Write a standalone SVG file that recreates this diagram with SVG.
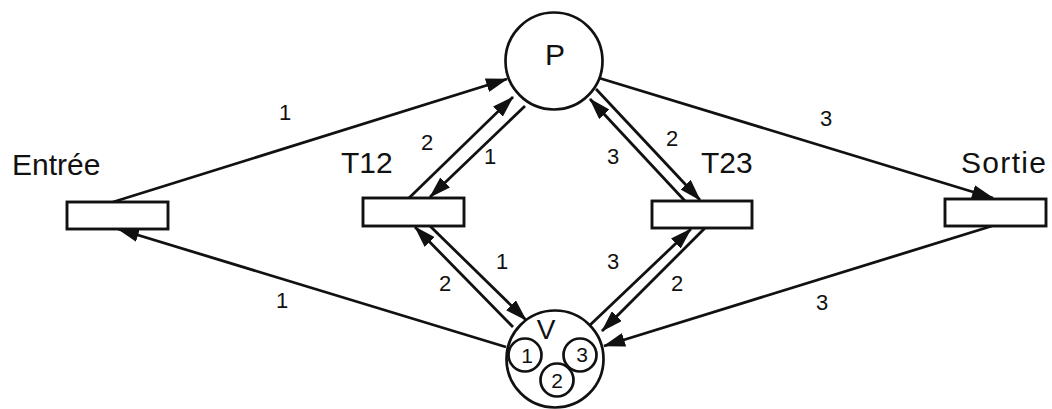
<svg xmlns="http://www.w3.org/2000/svg" width="1052" height="409" viewBox="0 0 1052 409">
<defs>
<style>
.pl{fill:#fff;stroke:#111;stroke-width:2.7}
.tr{fill:#fff;stroke:#111;stroke-width:2.9}
.ar{stroke:#111;stroke-width:2.8;fill:none;marker-end:url(#ah)}
.nm{font-family:"Liberation Sans",Arial,sans-serif;font-size:30px;fill:#111}
.lb{font-family:"Liberation Sans",Arial,sans-serif;font-size:22px;fill:#111;text-anchor:middle}
.tk{font-family:"Liberation Sans",Arial,sans-serif;font-size:21px;fill:#111;text-anchor:middle}
</style>
<marker id="ah" markerUnits="userSpaceOnUse" viewBox="0 0 22 14" markerWidth="22" markerHeight="14" refX="21" refY="7" orient="auto">
<path d="M0,0 L22,7 L0,14 z" fill="#111"/>
</marker>
</defs>
<rect width="1052" height="409" fill="#fff"/>
<g id="connectors">
<line class="ar" x1="113" y1="202" x2="507" y2="79"/>
<line class="ar" x1="506" y1="347" x2="118" y2="229"/>
<line class="ar" x1="599" y1="78" x2="993" y2="198"/>
<line class="ar" x1="992" y1="226" x2="604" y2="346"/>
<line class="ar" x1="409" y1="198" x2="513" y2="97"/>
<line class="ar" x1="525" y1="106" x2="430" y2="197"/>
<line class="ar" x1="513" y1="327" x2="415" y2="227"/>
<line class="ar" x1="430" y1="226" x2="526" y2="320"/>
<line class="ar" x1="685" y1="201" x2="590" y2="99"/>
<line class="ar" x1="596" y1="89" x2="700" y2="200"/>
<line class="ar" x1="589" y1="326" x2="691" y2="229"/>
<line class="ar" x1="705" y1="228" x2="602" y2="331"/>
<text class="lb" x="285" y="120">1</text>
<text class="lb" x="427" y="150">2</text>
<text class="lb" x="490" y="164">1</text>
<text class="lb" x="613" y="164">3</text>
<text class="lb" x="672" y="146">2</text>
<text class="lb" x="826" y="126">3</text>
<text class="lb" x="445" y="291">2</text>
<text class="lb" x="502" y="269">1</text>
<text class="lb" x="613" y="269">3</text>
<text class="lb" x="677" y="291">2</text>
<text class="lb" x="282" y="308">1</text>
<text class="lb" x="822" y="310">3</text>
</g>
<g id="place-P">
<circle class="pl" cx="554" cy="61" r="48.5"/>
<text class="nm" x="555" y="65" text-anchor="middle">P</text>
</g>
<g id="place-V">
<circle class="pl" cx="555" cy="359" r="48.5"/>
<text class="nm" x="546" y="339" text-anchor="middle" style="font-size:28px">V</text>
<circle class="pl" cx="525" cy="355" r="16.5"/>
<text class="tk" x="527" y="363">1</text>
<circle class="pl" cx="580" cy="355" r="16.5"/>
<text class="tk" x="582" y="362">3</text>
<circle class="pl" cx="557" cy="380" r="16.5"/>
<text class="tk" x="557" y="388">2</text>
</g>
<g id="trans-Entree">
<rect class="tr" x="67" y="202" width="101" height="27"/>
<text class="nm" x="12" y="175">Entrée</text>
</g>
<g id="trans-T12">
<rect class="tr" x="363" y="198" width="101" height="28"/>
<text class="nm" x="341" y="173">T12</text>
</g>
<g id="trans-T23">
<rect class="tr" x="652" y="201" width="100" height="27"/>
<text class="nm" x="701" y="173">T23</text>
</g>
<g id="trans-Sortie">
<rect class="tr" x="945" y="199" width="101" height="27"/>
<text class="nm" x="961" y="173" textLength="85" lengthAdjust="spacing">Sortie</text>
</g>
</svg>
